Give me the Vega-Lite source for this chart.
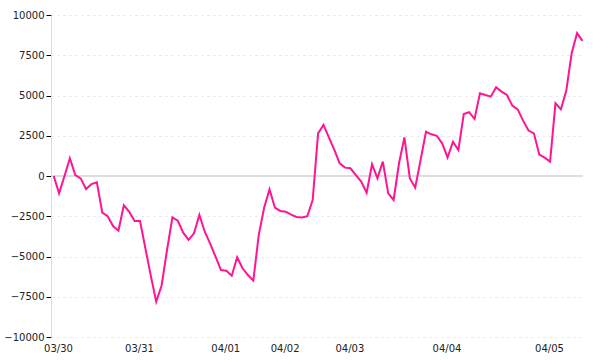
{
  "$schema": "https://vega.github.io/schema/vega-lite/v6.json",
  "width": 532,
  "height": 322,
  "autosize": "none",
  "padding": {"left": 51, "top": 15, "right": 17, "bottom": 23},
  "background": "#ffffff",
  "config": {
    "view": {"stroke": null},
    "axis": {"labelFont": "DejaVu Sans", "labelFontSize": 10, "labelColor": "#222222"}
  },
  "data": {
    "values": [
      {"i": 0, "v": 0}, {"i": 1, "v": -1080}, {"i": 2, "v": 0}, {"i": 3, "v": 1100},
      {"i": 4, "v": 60}, {"i": 5, "v": -150}, {"i": 6, "v": -810}, {"i": 7, "v": -500},
      {"i": 8, "v": -390}, {"i": 9, "v": -2280}, {"i": 10, "v": -2490}, {"i": 11, "v": -3110},
      {"i": 12, "v": -3400}, {"i": 13, "v": -1820}, {"i": 14, "v": -2220}, {"i": 15, "v": -2800},
      {"i": 16, "v": -2800}, {"i": 17, "v": -4500}, {"i": 18, "v": -6200}, {"i": 19, "v": -7800},
      {"i": 20, "v": -6800}, {"i": 21, "v": -4600}, {"i": 22, "v": -2570}, {"i": 23, "v": -2780},
      {"i": 24, "v": -3520}, {"i": 25, "v": -3970}, {"i": 26, "v": -3560}, {"i": 27, "v": -2420},
      {"i": 28, "v": -3460}, {"i": 29, "v": -4200}, {"i": 30, "v": -5010}, {"i": 31, "v": -5840},
      {"i": 32, "v": -5880}, {"i": 33, "v": -6190}, {"i": 34, "v": -5050}, {"i": 35, "v": -5730},
      {"i": 36, "v": -6150}, {"i": 37, "v": -6500}, {"i": 38, "v": -3670}, {"i": 39, "v": -1970},
      {"i": 40, "v": -830}, {"i": 41, "v": -1970}, {"i": 42, "v": -2170}, {"i": 43, "v": -2220},
      {"i": 44, "v": -2400}, {"i": 45, "v": -2540}, {"i": 46, "v": -2570}, {"i": 47, "v": -2500},
      {"i": 48, "v": -1500}, {"i": 49, "v": 2650}, {"i": 50, "v": 3170}, {"i": 51, "v": 2400},
      {"i": 52, "v": 1640}, {"i": 53, "v": 790}, {"i": 54, "v": 520}, {"i": 55, "v": 480},
      {"i": 56, "v": 60}, {"i": 57, "v": -350}, {"i": 58, "v": -1040}, {"i": 59, "v": 730},
      {"i": 60, "v": -140}, {"i": 61, "v": 890}, {"i": 62, "v": -1080}, {"i": 63, "v": -1490},
      {"i": 64, "v": 790}, {"i": 65, "v": 2400}, {"i": 66, "v": -140}, {"i": 67, "v": -730},
      {"i": 68, "v": 990}, {"i": 69, "v": 2750}, {"i": 70, "v": 2590}, {"i": 71, "v": 2500},
      {"i": 72, "v": 2030}, {"i": 73, "v": 1140}, {"i": 74, "v": 2130}, {"i": 75, "v": 1610},
      {"i": 76, "v": 3850}, {"i": 77, "v": 3960}, {"i": 78, "v": 3540}, {"i": 79, "v": 5140},
      {"i": 80, "v": 5030}, {"i": 81, "v": 4930}, {"i": 82, "v": 5510}, {"i": 83, "v": 5240},
      {"i": 84, "v": 5030}, {"i": 85, "v": 4370}, {"i": 86, "v": 4140}, {"i": 87, "v": 3440},
      {"i": 88, "v": 2820}, {"i": 89, "v": 2650}, {"i": 90, "v": 1330}, {"i": 91, "v": 1140},
      {"i": 92, "v": 890}, {"i": 93, "v": 4520}, {"i": 94, "v": 4140}, {"i": 95, "v": 5300},
      {"i": 96, "v": 7630}, {"i": 97, "v": 8870}, {"i": 98, "v": 8390}
    ]
  },
  "encoding": {
    "x": {
      "field": "i",
      "type": "quantitative",
      "scale": {"domain": [-0.5, 98.1], "nice": false, "zero": false},
      "axis": {
        "title": null,
        "values": [0.8, 15.8, 31.8, 42.8, 54.8, 72.8, 91.8],
        "labelExpr": "['03/30','03/31','04/01','04/02','04/03','04/04','04/05'][indexof([0,15,31,42,54,72,91], floor(datum.value))]",
        "labelPadding": 6,
        "labelFlush": false,
        "labelOverlap": false,
        "domain": false,
        "ticks": false,
        "grid": false
      }
    },
    "y": {
      "field": "v",
      "type": "quantitative",
      "scale": {"domain": [-10000, 10000], "nice": false},
      "axis": {
        "title": null,
        "values": [-10000, -7500, -5000, -2500, 0, 2500, 5000, 7500, 10000],
        "format": "d",
        "domainColor": "#dddddd",
        "tickColor": "#000000",
        "tickSize": 5,
        "labelPadding": 2,
        "grid": true,
        "gridColor": "#e4e4e4",
        "gridDash": [2, 4]
      }
    }
  },
  "layer": [
    {
      "mark": {"type": "rule", "color": "#dddddd", "strokeWidth": 1},
      "encoding": {"y": {"datum": 0}, "x": null}
    },
    {
      "mark": {"type": "line", "color": "#ff1493", "strokeWidth": 2, "clip": false}
    }
  ]
}
